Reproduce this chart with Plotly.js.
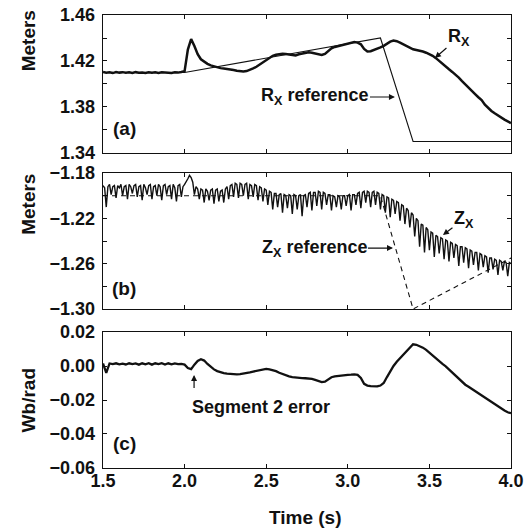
<!DOCTYPE html>
<html><head><meta charset="utf-8">
<script src="https://cdn.plot.ly/plotly-3.0.1.min.js"></script>
<style>html,body{margin:0;padding:0;background:#fff}#plot{width:526px;height:531px}</style>
</head><body><div id="plot"></div>
<script>
// sample times (s) for Rx and flux error
const time = [1.50,1.52,1.54,1.56,1.58,1.60,1.62,1.64,1.66,1.68,
1.70,1.72,1.74,1.76,1.78,1.80,1.82,1.84,1.86,1.88,
1.90,1.92,1.94,1.96,1.98,2.00,2.02,2.04,2.06,2.08,
2.10,2.12,2.14,2.16,2.18,2.20,2.22,2.24,2.26,2.28,
2.30,2.32,2.34,2.36,2.38,2.40,2.42,2.44,2.46,2.48,
2.50,2.52,2.54,2.56,2.58,2.60,2.62,2.64,2.66,2.68,
2.70,2.72,2.74,2.76,2.78,2.80,2.82,2.84,2.86,2.88,
2.90,2.92,2.94,2.96,2.98,3.00,3.02,3.04,3.06,3.08,
3.10,3.12,3.14,3.16,3.18,3.20,3.22,3.24,3.26,3.28,
3.30,3.32,3.34,3.36,3.38,3.40,3.42,3.44,3.46,3.48,
3.50,3.52,3.54,3.56,3.58,3.60,3.62,3.64,3.66,3.68,
3.70,3.72,3.74,3.76,3.78,3.80,3.82,3.84,3.86,3.88,
3.90,3.92,3.94,3.96,3.98,4.00];

// (a) Rx measured (m)
const rx = [1.4105,1.4098,1.4102,1.4095,1.4104,1.4099,1.4103,1.4097,1.4101,1.4096,
1.4103,1.4098,1.4100,1.4095,1.4102,1.4097,1.4101,1.4096,1.4102,1.4098,
1.4100,1.4096,1.4101,1.4099,1.4104,1.4112,1.4300,1.4390,1.4330,1.4260,
1.4215,1.4192,1.4175,1.4162,1.4152,1.4143,1.4138,1.4135,1.4132,1.4128,
1.4122,1.4115,1.4110,1.4108,1.4112,1.4122,1.4135,1.4150,1.4170,1.4192,
1.4210,1.4228,1.4245,1.4255,1.4260,1.4262,1.4260,1.4258,1.4252,1.4248,
1.4258,1.4265,1.4270,1.4275,1.4272,1.4265,1.4255,1.4252,1.4262,1.4290,
1.4310,1.4322,1.4330,1.4338,1.4345,1.4352,1.4360,1.4365,1.4360,1.4345,
1.4305,1.4282,1.4285,1.4295,1.4305,1.4318,1.4332,1.4350,1.4368,1.4377,
1.4372,1.4360,1.4345,1.4330,1.4315,1.4302,1.4295,1.4290,1.4282,1.4272,
1.4260,1.4245,1.4225,1.4200,1.4170,1.4148,1.4128,1.4105,1.4082,1.4055,
1.4025,1.3995,1.3965,1.3940,1.3912,1.3885,1.3860,1.3820,1.3790,1.3765,
1.3745,1.3725,1.3705,1.3690,1.3675,1.3660];

// (a) Rx reference
const rxRefTime = [1.5, 2.0, 3.2, 3.4, 4.0];
const rxRef = [1.41, 1.41, 1.44, 1.35, 1.35];

// (b) Zx measured (m), sampled every 0.01 s from 1.50 s
const zxStart = 1.5, zxStep = 0.01;
const zx = [-1.191,-1.193,-1.210,-1.192,-1.190,-1.199,-1.192,-1.191,-1.202,-1.191,
-1.193,-1.190,-1.200,-1.192,-1.191,-1.203,-1.190,-1.192,-1.198,-1.191,
-1.190,-1.201,-1.192,-1.191,-1.204,-1.190,-1.193,-1.199,-1.191,-1.190,
-1.203,-1.192,-1.191,-1.200,-1.190,-1.192,-1.204,-1.191,-1.190,-1.199,
-1.192,-1.191,-1.203,-1.190,-1.193,-1.205,-1.191,-1.190,-1.201,-1.192,
-1.190,-1.188,-1.185,-1.182,-1.184,-1.188,-1.199,-1.192,-1.194,-1.203,
-1.194,-1.195,-1.206,-1.194,-1.196,-1.204,-1.195,-1.194,-1.207,-1.195,
-1.194,-1.205,-1.196,-1.195,-1.206,-1.194,-1.192,-1.203,-1.191,-1.190,
-1.201,-1.189,-1.190,-1.202,-1.189,-1.190,-1.200,-1.190,-1.189,-1.203,
-1.190,-1.191,-1.201,-1.190,-1.191,-1.204,-1.192,-1.193,-1.205,-1.194,
-1.195,-1.208,-1.196,-1.197,-1.212,-1.198,-1.198,-1.210,-1.199,-1.198,
-1.215,-1.199,-1.200,-1.211,-1.199,-1.200,-1.216,-1.199,-1.200,-1.212,
-1.200,-1.199,-1.218,-1.200,-1.199,-1.210,-1.198,-1.197,-1.213,-1.197,
-1.197,-1.209,-1.196,-1.197,-1.212,-1.197,-1.198,-1.208,-1.199,-1.199,
-1.213,-1.200,-1.201,-1.210,-1.200,-1.201,-1.212,-1.200,-1.200,-1.209,
-1.200,-1.199,-1.213,-1.199,-1.199,-1.208,-1.198,-1.197,-1.211,-1.197,
-1.196,-1.206,-1.196,-1.197,-1.210,-1.197,-1.196,-1.208,-1.197,-1.198,
-1.212,-1.199,-1.200,-1.215,-1.201,-1.202,-1.219,-1.203,-1.204,-1.216,
-1.205,-1.206,-1.222,-1.208,-1.209,-1.225,-1.211,-1.213,-1.228,-1.215,
-1.217,-1.236,-1.220,-1.222,-1.245,-1.225,-1.226,-1.250,-1.228,-1.230,
-1.248,-1.232,-1.233,-1.254,-1.235,-1.236,-1.251,-1.237,-1.238,-1.256,
-1.239,-1.240,-1.258,-1.241,-1.242,-1.255,-1.243,-1.244,-1.262,-1.245,
-1.245,-1.259,-1.246,-1.247,-1.264,-1.248,-1.249,-1.261,-1.250,-1.250,
-1.266,-1.251,-1.252,-1.263,-1.253,-1.254,-1.268,-1.255,-1.255,-1.265,
-1.256,-1.257,-1.270,-1.257,-1.258,-1.266,-1.258,-1.259,-1.271,-1.259,
-1.260];

// (b) Zx reference
const zxRefTime = [1.5, 3.2, 3.4, 4.0];
const zxRef = [-1.20, -1.20, -1.30, -1.255];

// (c) flux error (Wb/rad)
const fluxErr = [0.0015,-0.0040,0.0015,0.0011,0.0016,0.0010,0.0014,0.0009,0.0016,0.0011,
0.0015,0.0008,0.0016,0.0010,0.0017,0.0008,0.0016,0.0011,0.0017,0.0009,
0.0016,0.0010,0.0015,0.0011,0.0012,0.0008,-0.0012,-0.0018,0.0008,0.0030,
0.0040,0.0032,0.0012,-0.0005,-0.0020,-0.0030,-0.0038,-0.0042,-0.0045,-0.0047,
-0.0048,-0.0049,-0.0048,-0.0046,-0.0043,-0.0038,-0.0033,-0.0028,-0.0023,-0.0019,
-0.0017,-0.0020,-0.0025,-0.0030,-0.0040,-0.0048,-0.0055,-0.0061,-0.0065,-0.0068,
-0.0069,-0.0071,-0.0072,-0.0073,-0.0076,-0.0082,-0.0090,-0.0095,-0.0092,-0.0078,
-0.0066,-0.0061,-0.0058,-0.0055,-0.0054,-0.0052,-0.0051,-0.0049,-0.0052,-0.0070,
-0.0105,-0.0115,-0.0118,-0.0120,-0.0120,-0.0115,-0.0100,-0.0065,-0.0030,0.0000,
0.0025,0.0045,0.0068,0.0090,0.0110,0.0128,0.0125,0.0118,0.0108,0.0095,
0.0078,0.0060,0.0045,0.0030,0.0012,-0.0002,-0.0020,-0.0040,-0.0060,-0.0078,
-0.0095,-0.0110,-0.0122,-0.0135,-0.0148,-0.0160,-0.0172,-0.0185,-0.0198,-0.0212,
-0.0225,-0.0238,-0.0250,-0.0262,-0.0272,-0.0278];

// tick labels
const xTicks = [1.5, 2.0, 2.5, 3.0, 3.5, 4.0];
const xTickText = ['1.5','2.0','2.5','3.0','3.5','4.0'];
const aTicks = [1.34,1.38,1.42,1.46];
const aTickText = ['1.34','1.38','1.42','1.46'];
const aMinor = [1.36,1.40,1.44];
const bTicks = [-1.30,-1.26,-1.22,-1.18];
const bTickText = ['\u22121.30','\u22121.26','\u22121.22','\u22121.18'];
const bMinor = [-1.28,-1.24,-1.20];
const cTicks = [-0.06,-0.04,-0.02,0.00,0.02];
const cTickText = ['\u22120.06','\u22120.04','\u22120.02','0.00','0.02'];

const INK = '#111111';
const FAM = 'Liberation Sans, Arial, Helvetica, sans-serif';
const tickFont = {family: FAM, size: 18, color: INK, weight: 'bold'};
const txtFont = {family: FAM, size: 18, color: INK, weight: 'bold'};
const titleFont = {family: FAM, size: 19, color: INK, weight: 'bold'};

const traces = [
  {x: rxRefTime, y: rxRef, xaxis:'x', yaxis:'y', mode:'lines', line:{color:INK, width:1.1}},
  {x: time, y: rx, xaxis:'x', yaxis:'y', mode:'lines', line:{color:INK, width:2.5}},
  {x: zxRefTime, y: zxRef, xaxis:'x2', yaxis:'y2', mode:'lines', line:{color:INK, width:1.1, dash:'5px,4px'}},
  {x0: zxStart, dx: zxStep, y: zx, xaxis:'x2', yaxis:'y2', mode:'lines', line:{color:INK, width:1.4}},
  {x: time, y: fluxErr, xaxis:'x3', yaxis:'y3', mode:'lines', line:{color:INK, width:2.3}}
];

function xax(anchor, labels) {
  return {anchor: anchor, range:[1.5,4.0], tickvals: xTicks, ticktext: xTickText,
    showticklabels: labels, ticks:'inside', ticklen:4, tickwidth:1, tickcolor:INK,
    showline:true, linecolor:INK, linewidth:1.3, mirror:'ticks', showgrid:false, zeroline:false,
    tickfont: tickFont, ticklabelstandoff: -4, fixedrange:true};
}
function yax(anchor, dom, rng, tv, tt, minorVals) {
  const ax = {anchor: anchor, domain: dom, range: rng, tickvals: tv, ticktext: tt,
    ticks:'inside', ticklen:4, tickwidth:1, tickcolor:INK,
    showline:true, linecolor:INK, linewidth:1.3, mirror:'ticks', showgrid:false, zeroline:false,
    tickfont: tickFont, ticklabelstandoff: 3, fixedrange:true};
  if (minorVals) ax.minor = {tickvals: minorVals, ticks:'inside', ticklen:4, tickwidth:1, tickcolor:INK, showgrid:false};
  return ax;
}

const arrow = {showarrow:true, arrowhead:2, arrowsize:1, arrowwidth:1.2, arrowcolor:INK, standoff:0};

const annotations = [
  // axis titles
  {xref:'paper', yref:'paper', x:-0.183, y:0.9426, text:'Meters', textangle:-90, showarrow:false, font:titleFont, xanchor:'center', yanchor:'middle'},
  {xref:'paper', yref:'paper', x:-0.183, y:0.5817, text:'Meters', textangle:-90, showarrow:false, font:titleFont, xanchor:'center', yanchor:'middle'},
  {xref:'paper', yref:'paper', x:-0.183, y:0.150, text:'Wb/rad', textangle:-90, showarrow:false, font:titleFont, xanchor:'center', yanchor:'middle'},
  {xref:'paper', yref:'paper', x:0.497, y:-0.110, text:'Time (s)', showarrow:false, font:titleFont, xanchor:'center', yanchor:'middle'},
  // panel labels
  {xref:'x', yref:'y', x:1.629, y:1.3617, text:'(a)', showarrow:false, font:titleFont},
  {xref:'x2', yref:'y2', x:1.629, y:-1.2815, text:'(b)', showarrow:false, font:titleFont},
  {xref:'x3', yref:'y3', x:1.629, y:-0.0453, text:'(c)', showarrow:false, font:titleFont},
  // arrows with labels
  Object.assign({xref:'x', yref:'y', x:3.534, y:1.4226, ax:24, ay:-21, text:'R<sub>X</sub>', font:txtFont}, arrow),
  Object.assign({xref:'x', yref:'y', x:3.289, y:1.3887, ax:-80, ay:0, text:'R<sub>X</sub> reference', font:txtFont}, arrow),
  Object.assign({xref:'x2', yref:'y2', x:3.583, y:-1.2347, ax:21, ay:-16, text:'Z<sub>X</sub>', font:txtFont}, arrow),
  Object.assign({xref:'x2', yref:'y2', x:3.277, y:-1.2462, ax:-79, ay:0, text:'Z<sub>X</sub> reference', font:txtFont}, arrow),
  {xref:'x3', yref:'y3', x:2.468, y:-0.0241, text:'Segment 2 error', showarrow:false, font:txtFont},
  Object.assign({xref:'x3', yref:'y3', x:2.058, y:-0.0053, ax:0, ay:15, text:' ', font:{size:1}}, arrow)
];

const layout = {
  width:526, height:531,
  margin:{l:103, r:15, t:15, b:63},
  paper_bgcolor:'#fff', plot_bgcolor:'#fff',
  showlegend:false,
  xaxis: xax('y', false),
  xaxis2: xax('y2', false),
  xaxis3: xax('y3', true),
  yaxis: yax('x', [0.6954, 1], [1.34, 1.46], aTicks, aTickText, aMinor),
  yaxis2: yax('x2', [0.351, 0.651], [-1.30, -1.18], bTicks, bTickText, bMinor),
  yaxis3: yax('x3', [0, 0.3002], [-0.06, 0.02], cTicks, cTickText, null),
  annotations: annotations
};

Plotly.newPlot('plot', traces, layout, {staticPlot:true, displayModeBar:false});
</script></body></html>
